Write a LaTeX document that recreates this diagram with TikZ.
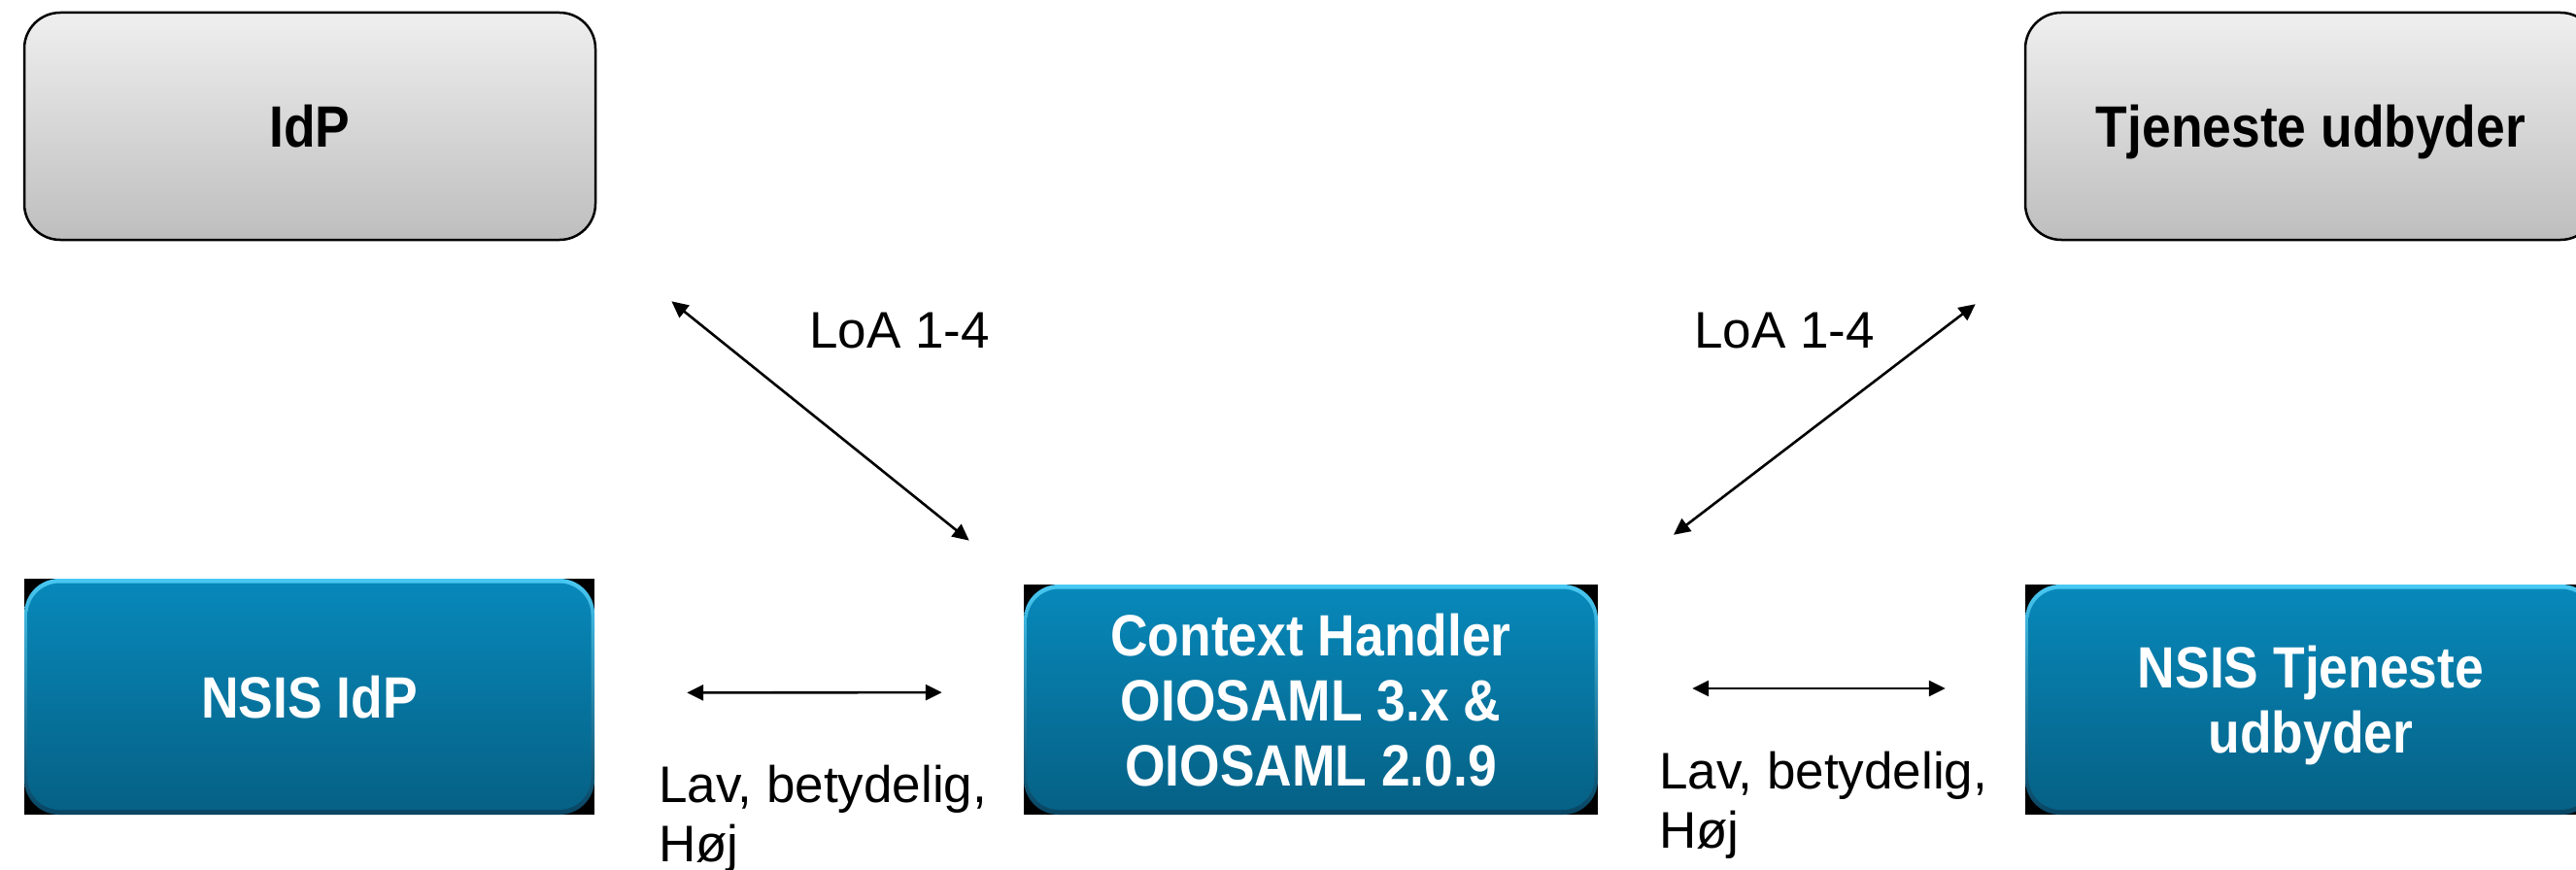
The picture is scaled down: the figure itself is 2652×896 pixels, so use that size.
\documentclass[tikz,border=0pt]{standalone}
\usepackage{fontspec}
\setmainfont{Liberation Sans}
\newfontfamily\boxfont[FakeStretch=0.89]{Liberation Sans}
\usetikzlibrary{arrows.meta,calc}
\definecolor{greytop}{RGB}{239,239,239}
\definecolor{greybot}{RGB}{190,190,190}
\definecolor{bluetop}{RGB}{7,137,187}
\definecolor{bluebot}{RGB}{6,96,132}
\definecolor{rimtop}{RGB}{72,200,242}
\definecolor{rimbot}{RGB}{8,68,98}
\tikzset{
  boxtext/.style={font=\boxfont\bfseries\fontsize{60}{67}\selectfont, align=center, inner sep=0pt, text depth=0pt},
  greybox/.style={boxtext, rounded corners=37pt, draw=black, line width=2.5pt,
    top color=greytop, bottom color=greybot, text=black},
  bluebox/.style={boxtext, rounded corners=36pt, top color=rimtop, bottom color=rimbot, text=white,
    path picture={\shade[top color=bluetop, bottom color=bluebot, rounded corners=33pt]
      ([shift={(3.5pt,-4.5pt)}]path picture bounding box.north west) rectangle
      ([shift={(-3.5pt,5pt)}]path picture bounding box.south east);}},
  link/.style={{Triangle[length=17pt,width=16pt]}-{Triangle[length=17pt,width=16pt]}, line width=2.6pt},
  lbl/.style={font=\fontsize{53}{61}\selectfont, align=left, inner sep=0pt, anchor=base west}
}
\begin{document}
\begin{tikzpicture}[x=1pt,y=-1pt]
\useasboundingbox (0,0) rectangle (2652,896);
\clip (0,0) rectangle (2652,896);
% black backdrops of the blue boxes
\fill[black] (25,596) rectangle (612,839);
\fill[black] (1054,602) rectangle (1645,839);
\fill[black] (2085,602) rectangle (2673,839);
% boxes
\node[greybox, minimum width=588pt, minimum height=234pt] (idp) at (319,130) {IdP};
\node[greybox, minimum width=588pt, minimum height=234pt] (tj) at (2379,130) {Tjeneste udbyder};
\node[bluebox, minimum width=587pt, minimum height=243pt] (nidp) at (318.5,717.5) {NSIS IdP};
\node[bluebox, minimum width=591pt, minimum height=237pt] (ctx) at (1349.5,720.5) {Context Handler\\OIOSAML 3.x \&\\OIOSAML 2.0.9};
\node[bluebox, minimum width=588pt, minimum height=237pt] (ntj) at (2379,720.5) {NSIS Tjeneste\\udbyder};
% connectors
\draw[link, shorten <=99pt, shorten >=72pt] (idp.south east) -- (ctx.north west);
\draw[link, shorten <=107pt, shorten >=84pt] ($(tj.south west)+(35,0)$) -- ($(ctx.north east)+(11,0)$);
\draw[link, shorten <=95pt, shorten >=84pt] ([yshift=4pt]nidp.east) -- ([yshift=7.5pt]ctx.west);
\draw[link, shorten <=97pt, shorten >=82pt] ([yshift=11.5pt]ctx.east) -- ([yshift=11.5pt]ntj.west);
% labels
\node[lbl] (loa1) at (833,358) {LoA 1-4};
\node[lbl] (loa2) at (1744,358) {LoA 1-4};
\node[lbl] (lvl1) at (678,887) {Lav, betydelig,\\Høj};
\node[lbl] (lvl2) at (1708,873) {Lav, betydelig,\\Høj};
\end{tikzpicture}
\end{document}
